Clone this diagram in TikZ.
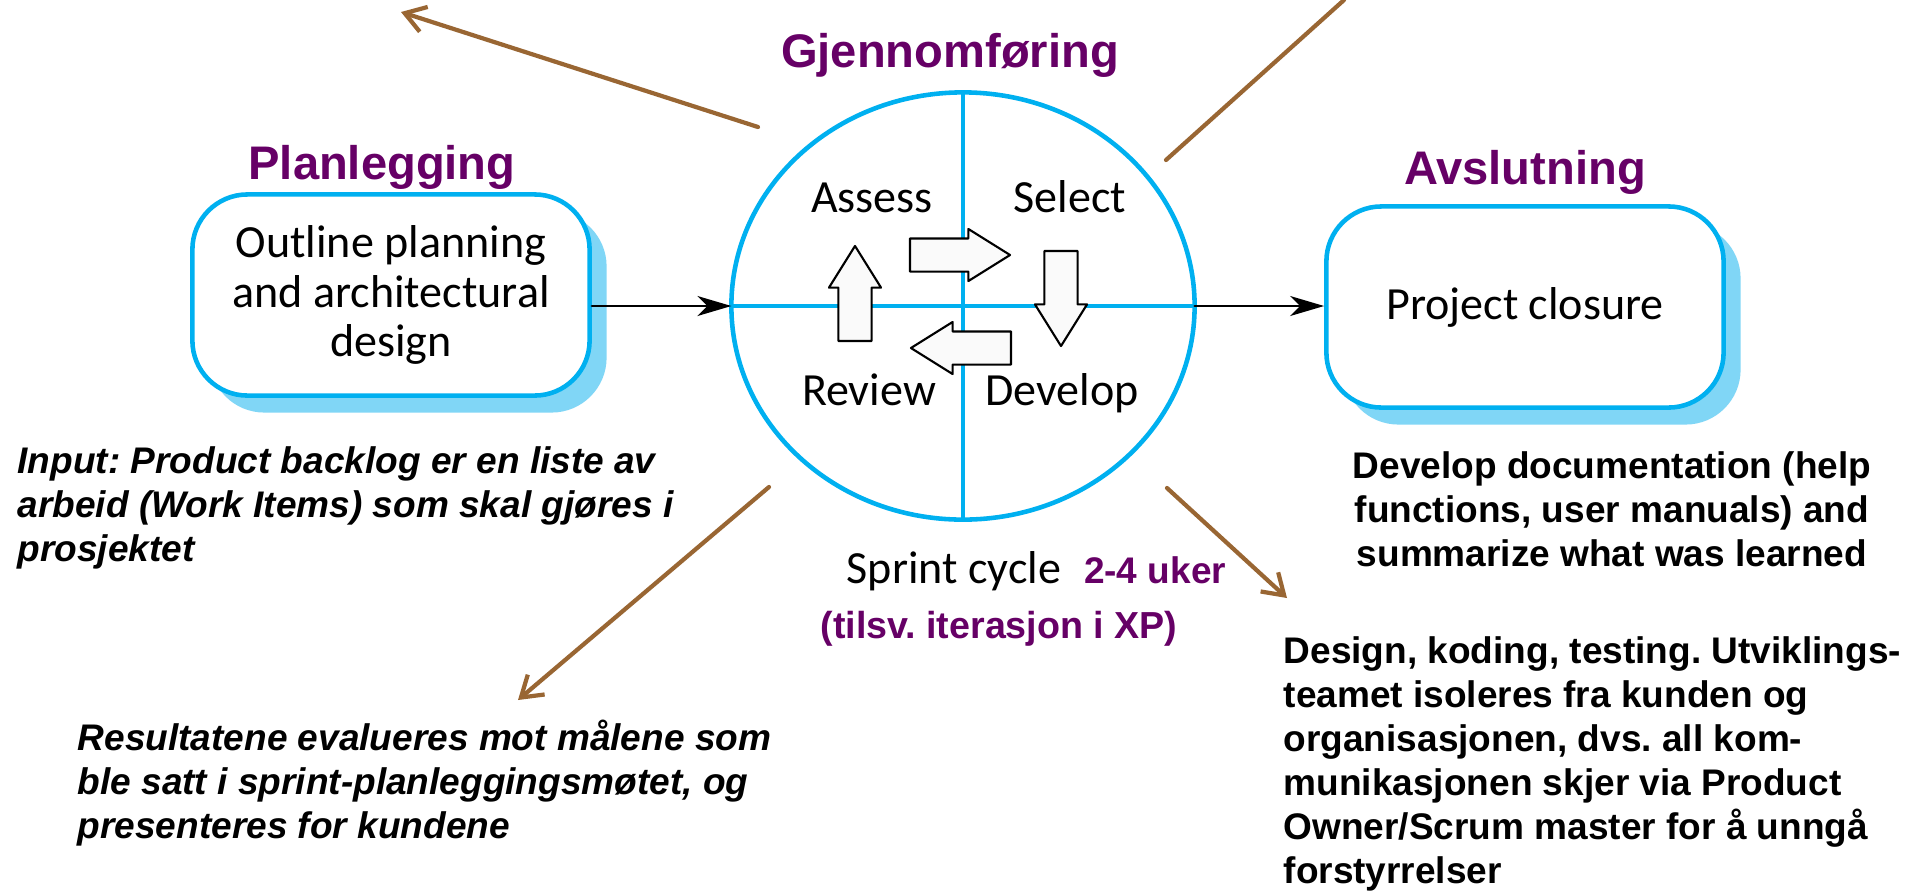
\documentclass[tikz,border=0pt]{standalone}
\usepackage{fontspec}
\setmainfont{Liberation Sans}
\newfontfamily\calfont{Carlito}
\usetikzlibrary{arrows.meta,positioning,shapes.geometric,shapes.arrows,shadows}
\definecolor{phasepurple}{RGB}{102,0,102}
\definecolor{cycleblue}{RGB}{0,176,240}
\definecolor{shadowblue}{RGB}{128,214,246}
\definecolor{notebrown}{RGB}{153,102,51}
\definecolor{turnfill}{RGB}{250,250,250}
\frenchspacing

\begin{document}
\begin{tikzpicture}[x=0.01cm, y=-0.01cm, line cap=round, line join=round, >=Stealth,
  phase/.style={font=\fontsize{13.4pt}{16pt}\selectfont\bfseries, text=phasepurple, inner sep=0pt},
  phasebox/.style={rectangle, rounded corners=0.55cm, draw=cycleblue, line width=1.3pt, fill=white,
    minimum width=3.97cm, minimum height=2.01cm, align=center,
    font=\calfont\fontsize{13.1pt}{14.2pt}\selectfont,
    drop shadow={shadow xshift=0.17cm, shadow yshift=-0.17cm, fill=shadowblue, opacity=1}},
  cycle/.style={ellipse, draw=cycleblue, line width=1.3pt, minimum width=4.63cm, minimum height=4.27cm,
    inner sep=0pt, outer sep=0pt},
  quadline/.style={draw=cycleblue, line width=1.3pt},
  quarter/.style={font=\calfont\fontsize{13.1pt}{15pt}\selectfont, inner sep=0pt, anchor=base},
  turn/.style={single arrow, draw=black, line width=0.6pt, fill=turnfill, minimum height=1cm,
    inner xsep=0pt, inner ysep=0.155cm, single arrow head extend=0.095cm, single arrow tip angle=64,
    outer sep=0pt, anchor=tail},
  note/.style={font=\fontsize{10.53pt}{12.52pt}\selectfont\bfseries, align=left, inner sep=0pt,
    anchor=north west},
  slanted/.style={font=\fontsize{10.53pt}{12.52pt}\selectfont\bfseries\itshape},
  flow/.style={-{Stealth[length=0.34cm, width=0.2cm, inset=0.1cm]}, line width=0.7pt},
  pointer/.style={draw=notebrown, line width=1.2pt, -{Straight Barb[length=0.2cm, width=0.26cm]}}]
  % --- page ---
  \fill[white] (0,0) rectangle (1920,890);
  \useasboundingbox (0,0) rectangle (1920,890);
  % --- sprint cycle ---
  \node[cycle] (cyc) at (963,306) {};
  \draw[quadline] (cyc.north) -- (cyc.south);
  \draw[quadline] (cyc.west) -- (cyc.east);
  \node[quarter] (assess) at (872,212) {Assess};
  \node[quarter] (select) at (1070,212) {Select};
  \node[quarter] (review) at (869,405) {Review};
  \node[quarter] (develop) at (1062,405) {Develop};
  \node[turn] (a2s) at (910,255) {};
  \node[turn, rotate=-90, minimum height=0.95cm] (s2d) at (1061,251) {};
  \node[turn, rotate=180] (d2r) at (1011,348) {};
  \node[turn, rotate=90, minimum height=0.95cm] (r2a) at (855,341) {};
  \node[phase, above=0.14cm of cyc, xshift=-0.13cm] (runtitle) {Gjennomføring};
  % --- phases ---
  \node[phasebox] (plan) at (391,295) {Outline planning\\and architectural\\design};
  \node[phasebox] (close) at (1525,307) {Project closure};
  \node[phase, above=0.02cm of plan, xshift=-0.09cm] (plantitle) {Planlegging};
  \node[phase, above=0.09cm of close] (closetitle) {Avslutning};
  \draw[flow] (plan.east |- cyc.west) -- (cyc.west);
  \draw[flow] (cyc.east) -- (close.west |- cyc.east);
  % --- sprint length ---
  \node[inner sep=0pt, anchor=base west, font=\fontsize{10.53pt}{12.52pt}\selectfont\bfseries] (sprint) at (846,583)
    {{\calfont\fontsize{13.1pt}{15pt}\selectfont\mdseries Sprint cycle}\hspace{0.23cm}{\color{phasepurple}2-4 uker}};
  \node[inner sep=0pt, anchor=base, font=\fontsize{10.7pt}{13pt}\selectfont\bfseries, text=phasepurple] (xp)
    at (999,638) {(tilsv. iterasjon i XP)};
  % --- notes ---
  \node[note, slanted] (input) at (17,446) {Input: Product backlog er en liste av\\arbeid (Work Items) som skal gjøres i\\prosjektet};
  \node[note, slanted] (results) at (77,719) {Resultatene evalueres mot målene som\\ble satt i sprint-planleggingsmøtet, og\\presenteres for kundene};
  \node[note, align=center, anchor=north] (docs) at (1612,451) {Develop documentation (help\\functions, user manuals) and\\summarize what was learned};
  \node[note] (design) at (1283,636) {Design, koding, testing. Utviklings-\\teamet isoleres fra kunden og\\organisasjonen, dvs. all kom-\\munikasjonen skjer via Product\\Owner/Scrum master for å unngå\\forstyrrelser};
  % --- pointers ---
  \coordinate (ulA) at (758,127);
  \coordinate (ulB) at (401,12);
  \coordinate (urA) at (1166,160);
  \coordinate (urB) at (1344,0);
  \coordinate (llA) at (769,487);
  \coordinate (llB) at (518,700);
  \coordinate (lrA) at (1167,488);
  \coordinate (lrB) at (1287,598);
  \draw[pointer] (ulA) -- (ulB);
  \draw[pointer, -] (urA) -- (urB);
  \draw[pointer] (llA) -- (llB);
  \draw[pointer] (lrA) -- (lrB);
\end{tikzpicture}
\end{document}
